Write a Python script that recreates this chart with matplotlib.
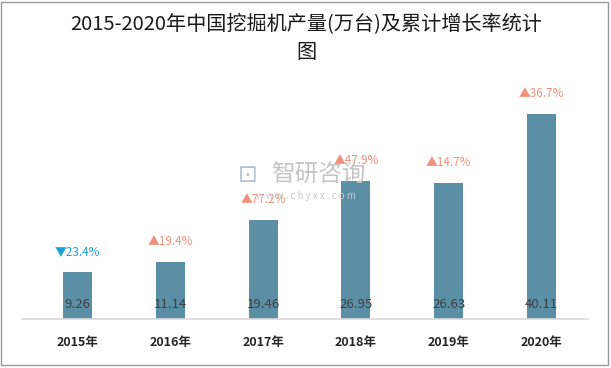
import matplotlib
matplotlib.use("Agg")
import matplotlib.pyplot as plt
from matplotlib.patches import Rectangle

plt.rcParams['font.family'] = ['Noto Sans CJK SC', 'DejaVu Sans']

years = ['2015年', '2016年', '2017年', '2018年', '2019年', '2020年']
output = [9.26, 11.14, 19.46, 26.95, 26.63, 40.11]
growth = [-23.4, 19.4, 77.2, 47.9, 14.7, 36.7]

W, H = 611, 368
fig = plt.figure(figsize=(W / 100, H / 100), dpi=100)
# axes in pixel terms: left 22, right 588, bottom 319, top 80
ax = fig.add_axes([22 / W, (H - 319) / H, 566 / W, 239 / H])
x = list(range(len(years)))
ax.bar(x, output, width=0.3125, color='#5B8FA6', zorder=2)
ax.set_xlim(-0.598, 5.50)
ax.set_ylim(0, 46.8)
for s in ['top', 'right', 'left']:
    ax.spines[s].set_visible(False)
ax.spines['bottom'].set_color('#d9d9d9')
ax.spines['bottom'].set_linewidth(1.2)
ax.set_yticks([])
ax.set_xticks(x)
ax.set_xticklabels(years, fontsize=9, fontweight='bold', color='#262626')
ax.tick_params(axis='x', length=0, pad=12)

# watermark
fig.text(248 / W, 1 - 175 / H, '⊡', ha='center', va='center', fontsize=17,
         color='#b4c2d6', zorder=0)
fig.text(318 / W, 1 - 175 / H, '智研咨询', ha='center', va='center', fontsize=17,
         color='#c4c4c4', zorder=0)
fig.text(306 / W, 1 - 196 / H, 'w w w . c h y x x . c o m', ha='center', va='center',
         fontsize=7, color='#c8c8c8', zorder=0)

for i, (v, g) in enumerate(zip(output, growth)):
    ax.text(i, 1.6, f'{v:.2f}', ha='center', va='bottom', fontsize=9.5,
            color='#404040', zorder=3)
    if g < 0:
        lab, col = f'▼{abs(g):.1f}%', '#1AA0DB'
    else:
        lab, col = f'▲{g:.1f}%', '#F0907A'
    ax.annotate(lab, (i, v), xytext=(0, 10), textcoords='offset points',
                ha='center', va='bottom', fontsize=8.5, color=col, zorder=4)

fig.text(306 / W, 1 - 25 / H, '2015-2020年中国挖掘机产量(万台)及累计增长率统计',
         ha='center', va='center', fontsize=14.5, color='#1a1a1a')
fig.text(306 / W, 1 - 52 / H, '图', ha='center', va='center', fontsize=14.5,
         color='#1a1a1a')

fig.patches.append(Rectangle((1 / W, 3 / H), (W - 4) / W, (H - 5) / H,
                             transform=fig.transFigure, fill=False,
                             edgecolor='#9a9a9a', linewidth=1))

fig.savefig('out.png', dpi=100)
